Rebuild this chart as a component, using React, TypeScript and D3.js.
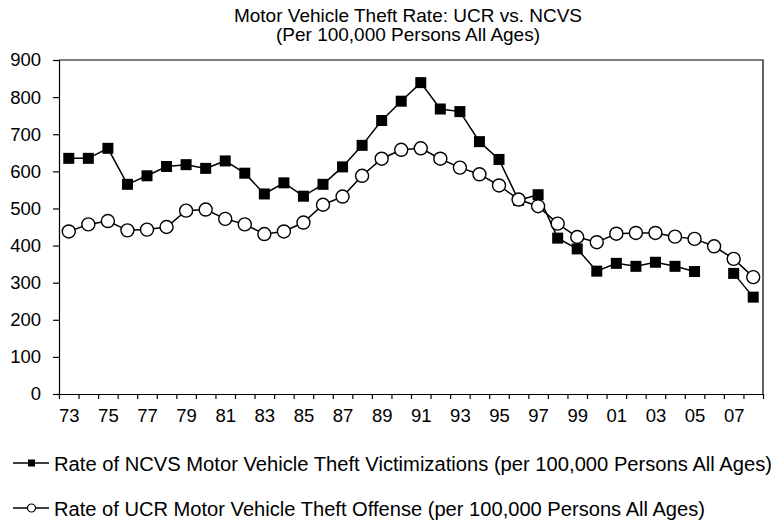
import { useRef, useEffect } from "react";
import * as d3 from "d3";

const years = d3.range(1973, 2009);
const tickLabels = ["73", "75", "77", "79", "81", "83", "85", "87", "89", "91", "93", "95", "97", "99", "01", "03", "05", "07"];
const yTicks = [0, 100, 200, 300, 400, 500, 600, 700, 800, 900];

// NCVS victimization rate, no value for 2006
const ncvs: (number | null)[] = [
  635, 635, 662, 565, 588, 613, 618, 608, 628, 595,
  539, 569, 533, 565, 612, 670, 737, 789, 839, 768,
  761, 680, 632, 522, 537, 420, 391, 331, 352, 344,
  355, 344, 330, null, 325, 261,
];

// UCR offense rate
const ucr: number[] = [
  438, 457, 466, 441, 443, 450, 494, 497, 472, 457,
  431, 438, 462, 510, 532, 588, 634, 658, 662, 634,
  610, 592, 562, 524, 506, 459, 423, 409, 432, 434,
  434, 424, 418, 398, 364, 315,
];

const legendNcvs = "Rate of NCVS Motor Vehicle Theft Victimizations (per 100,000 Persons All Ages)";
const legendUcr = "Rate of UCR Motor Vehicle Theft Offense (per 100,000 Persons All Ages)";

const FONT = "'Liberation Sans', Arial, Helvetica, sans-serif";

export default function App() {
  const ref = useRef<SVGSVGElement>(null);

  useEffect(() => {
    const svg = d3.select(ref.current);
    svg.selectAll("*").remove();

    const left = 59, right = 763, top = 60, bottom = 394;

    const x = d3.scaleLinear().domain([1973, 2009]).range([left, right]);
    const y = d3.scaleLinear().domain([0, 900]).range([bottom, top]);
    const cx = (yr: number) => x(yr + 0.5);

    // title
    const title = svg.append("g").attr("font-family", FONT).attr("font-size", 19).attr("text-anchor", "middle");
    title.append("text").attr("x", 408).attr("y", 22).text("Motor Vehicle Theft Rate: UCR vs. NCVS");
    title.append("text").attr("x", 408).attr("y", 41).text("(Per 100,000 Persons All Ages)");

    // frame (top + right)
    svg.append("path")
      .attr("d", `M${left},${top}H${right}V${bottom}`)
      .attr("fill", "none")
      .attr("stroke", "#000")
      .attr("stroke-width", 1.2);

    // y axis
    const yAxis = svg.append("g")
      .attr("transform", `translate(${left},0)`)
      .call(d3.axisLeft(y).tickValues(yTicks).tickSize(6).tickPadding(12));
    yAxis.selectAll("text").attr("font-family", FONT).attr("font-size", 18.5).attr("fill", "#000");
    yAxis.selectAll("line,path").attr("stroke", "#000").attr("stroke-width", 1.2);

    // x axis tick marks at year boundaries
    const xAxis = svg.append("g")
      .attr("transform", `translate(0,${bottom})`)
      .call(d3.axisBottom(x).tickValues(d3.range(1973, 2010)).tickFormat(() => "").tickSize(5).tickSizeOuter(0));
    xAxis.selectAll("line,path").attr("stroke", "#000").attr("stroke-width", 1.2);

    // x labels every other year
    const labelYears = years.filter((_, i) => i % 2 === 0);
    const xLab = svg.append("g")
      .attr("transform", `translate(0,${bottom})`)
      .call(d3.axisBottom(x).tickValues(labelYears.map((yr) => yr + 0.5))
        .tickFormat((_, i) => tickLabels[i]).tickSize(0).tickPadding(15));
    xLab.select(".domain").remove();
    xLab.selectAll("text").attr("font-family", FONT).attr("font-size", 18.5).attr("fill", "#000");

    // NCVS line + squares
    const ncvsLine = d3.line<number | null>()
      .defined((d) => d !== null)
      .x((_, i) => cx(years[i]))
      .y((d) => y(d as number));
    svg.append("path")
      .datum(ncvs)
      .attr("fill", "none")
      .attr("stroke", "#000")
      .attr("stroke-width", 1.5)
      .attr("d", ncvsLine);

    const sq = 11;
    svg.append("g").selectAll("rect")
      .data(years.map((yr, i) => ({ yr, v: ncvs[i] })).filter((d) => d.v !== null))
      .join("rect")
      .attr("x", (d) => cx(d.yr) - sq / 2)
      .attr("y", (d) => y(d.v as number) - sq / 2)
      .attr("width", sq)
      .attr("height", sq)
      .attr("fill", "#000");

    // UCR line + circles
    const ucrLine = d3.line<number>()
      .x((_, i) => cx(years[i]))
      .y((d) => y(d));
    svg.append("path")
      .datum(ucr)
      .attr("fill", "none")
      .attr("stroke", "#000")
      .attr("stroke-width", 1.5)
      .attr("d", ucrLine);

    svg.append("g").selectAll("circle")
      .data(ucr)
      .join("circle")
      .attr("cx", (_, i) => cx(years[i]))
      .attr("cy", (d) => y(d))
      .attr("r", 6.5)
      .attr("fill", "#fff")
      .attr("stroke", "#000")
      .attr("stroke-width", 1.4);

    // legend
    const legend = svg.append("g").attr("font-family", FONT).attr("font-size", 20);

    const row1 = legend.append("g").attr("transform", "translate(0,463)");
    row1.append("line").attr("x1", 13).attr("x2", 49).attr("stroke", "#000").attr("stroke-width", 1.5);
    row1.append("rect").attr("x", 28).attr("y", -3.5).attr("width", 7).attr("height", 7).attr("fill", "#000");
    row1.append("text").attr("x", 54).attr("y", 7.5)
      .attr("textLength", 718).attr("lengthAdjust", "spacingAndGlyphs").text(legendNcvs);

    const row2 = legend.append("g").attr("transform", "translate(0,508)");
    row2.append("line").attr("x1", 13).attr("x2", 49).attr("stroke", "#000").attr("stroke-width", 1.5);
    row2.append("circle").attr("cx", 31.5).attr("cy", 0).attr("r", 4).attr("fill", "#fff")
      .attr("stroke", "#000").attr("stroke-width", 1.2);
    row2.append("text").attr("x", 54).attr("y", 7.5)
      .attr("textLength", 651).attr("lengthAdjust", "spacingAndGlyphs").text(legendUcr);
  }, []);

  return (
    <svg
      ref={ref}
      width={776}
      height={520}
      style={{ position: "absolute", left: 0, top: 0, background: "#fff" }}
    />
  );
}
